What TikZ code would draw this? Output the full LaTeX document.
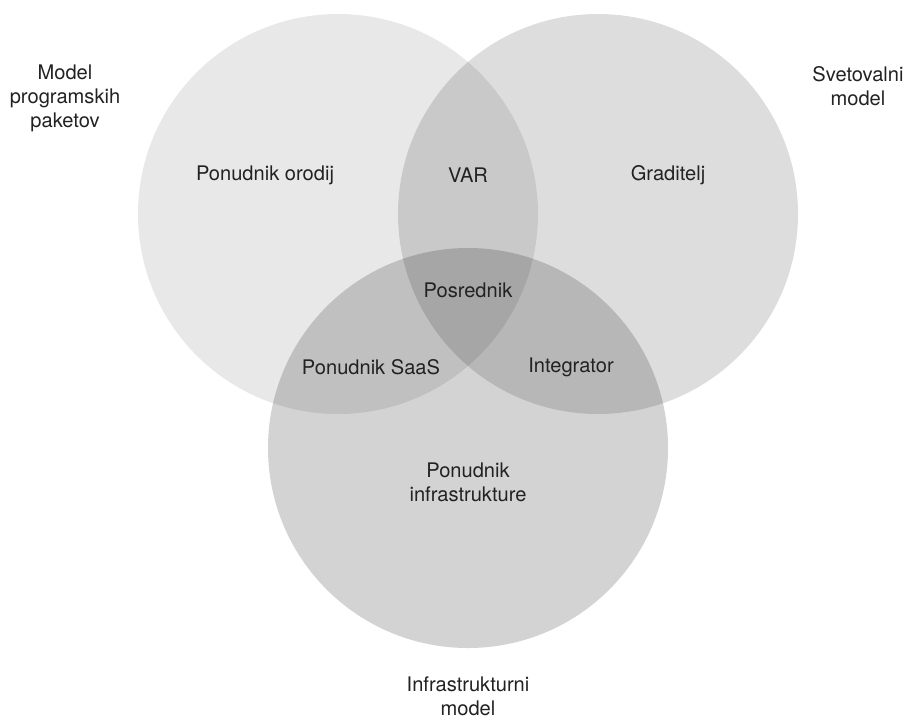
\documentclass[tikz,border=0pt]{standalone}
\usepackage{fontspec}
\setmainfont{TeX Gyre Heros}
\usepackage{tikz}
\definecolor{label_grey}{RGB}{34, 34, 34}
\tikzstyle{set}=[circle,fill=black,draw=none,inner sep=0pt,minimum size=10cm]
\tikzstyle{lset}=[set,fill opacity=0.09]
\tikzstyle{rset}=[set,fill opacity=0.133]
\tikzstyle{bset}=[set,fill opacity=0.173]
\tikzstyle{lbl}=[text=label_grey,align=center,font=\fontsize{14.3}{17}\selectfont]
\tikzstyle{none}=[]

\begin{document}
\begin{tikzpicture}
            \useasboundingbox (0, 0) rectangle (22.7, -17.975);
            \node [style=lset] (0) at (8.45, -5.35) {};
            \node [style=rset] (1) at (14.95, -5.35) {};
            \node [style=bset] (2) at (11.7, -11.2) {};
            \node [style=lbl] (3) at (1.625, -2.45) {Model\\programskih\\paketov};
            \node [style=lbl] (4) at (21.45, -2.16) {Svetovalni\\model};
            \node [style=lbl] (5) at (11.7, -17.4) {Infrastrukturni\\model};
            \node [style=lbl] (6) at (6.625, -4.375) {Ponudnik orodij};
            \node [style=lbl] (7) at (11.7, -4.375) {VAR};
            \node [style=lbl] (8) at (16.7, -4.375) {Graditelj};
            \node [style=lbl] (9) at (11.7, -7.25) {Posrednik};
            \node [style=lbl] (10) at (9.275, -9.175) {Ponudnik SaaS};
            \node [style=lbl] (11) at (14.275, -9.175) {Integrator};
            \node [style=lbl] (12) at (11.7, -12.05) {Ponudnik\\infrastrukture};
    \end{tikzpicture}
\end{document}
